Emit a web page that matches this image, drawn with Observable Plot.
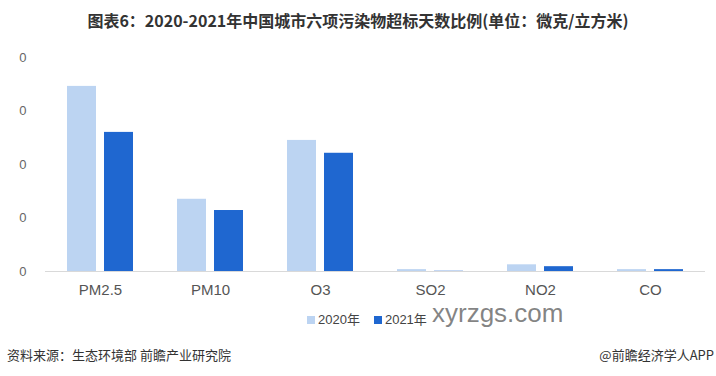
<!DOCTYPE html>
<html>
<head>
<meta charset="utf-8">
<script src="https://cdn.jsdelivr.net/npm/d3@7"></script>
<script src="https://cdn.jsdelivr.net/npm/@observablehq/plot@0.6"></script>
<style>
  html, body { margin: 0; padding: 0; background: #fff; }
  #wrap { position: relative; width: 716px; height: 376px; overflow: hidden; background: #fff;
          font-family: "Noto Sans CJK SC", "Liberation Sans", sans-serif; }
  #title { position: absolute; left: 0; top: 9px; width: 716px; text-align: center;
           font-size: 16px; line-height: 22px; font-weight: bold; color: #333; }
  #chart { position: absolute; left: 0; top: 34px; }
  #legend { position: absolute; left: 307px; top: 311px; font-size: 13px; line-height: 18px; color: #444;
            font-family: "Liberation Sans", "Noto Sans CJK SC", sans-serif; display: flex; align-items: center; }
  .sw { display: inline-block; width: 8px; height: 8px; margin-right: 3px; }
  .item { display: flex; align-items: center; margin-right: 14px; }
  #wm { position: absolute; left: 432px; top: 299px; font-size: 26px; line-height: 28px; color: rgba(110,110,110,0.85);
        font-family: "Liberation Sans", sans-serif; }
  #src { position: absolute; left: 7px; top: 346px; font-size: 13px; line-height: 18px; color: #333; }
  #app { position: absolute; right: 2px; top: 346px; font-size: 13px; line-height: 18px; color: #333; }
</style>
</head>
<body>
<div id="wrap">
  <div id="title"></div>
  <div id="chart"></div>
  <div id="wm"></div>
  <div id="legend"></div>
  <div id="src"></div>
  <div id="app"></div>
</div>
<script>
const titleText = "图表6：2020-2021年中国城市六项污染物超标天数比例(单位：微克/立方米)";
const categories = ["PM2.5", "PM10", "O3", "SO2", "NO2", "CO"];
const years = ["2020年", "2021年"];
const values2020 = [34.6, 13.5, 24.5, 0.35, 1.25, 0.35];
const values2021 = [26.0, 11.4, 22.1, 0.05, 0.9, 0.35];
const yTicks = [0, 10, 20, 30, 40];
const colors = ["#bcd4f2", "#1f67d0"];
const sourceText = "资料来源：生态环境部 前瞻产业研究院";
const appText = "@前瞻经济学人APP";
const watermark = "xyrzgs.com";

const data = categories.flatMap((c, i) => [
  {category: c, year: years[0], value: values2020[i]},
  {category: c, year: years[1], value: values2021[i]}
]);

const chart = Plot.plot({
  width: 716,
  height: 270,
  marginTop: 23,
  marginBottom: 33,
  marginLeft: 43,
  marginRight: 9,
  style: {fontFamily: "'Liberation Sans', Arial, sans-serif", background: "transparent"},
  fx: {domain: categories, padding: 0, label: null},
  x: {domain: years, paddingInner: 0.21, paddingOuter: 0.58, axis: null},
  y: {domain: [0, 40], label: null},
  color: {domain: years, range: colors},
  marks: [
    Plot.barY(data, {fx: "category", x: "year", y: "value", fill: "year"}),
    Plot.ruleY([0], {stroke: "#d9d9d9"}),
    Plot.axisY({ticks: yTicks, tickSize: 0, tickPadding: 19, tickFormat: d => String(d).slice(-1),
                fontSize: 13, fill: "#666", label: null}),
    Plot.axisFx({anchor: "bottom", tickSize: 0, tickPadding: 13, fontSize: 15, fill: "#555", label: null})
  ]
});
document.getElementById("chart").appendChild(chart);

document.getElementById("title").textContent = titleText;
document.getElementById("src").textContent = sourceText;
document.getElementById("app").textContent = appText;
document.getElementById("wm").textContent = watermark;

const legend = document.getElementById("legend");
years.forEach((y, i) => {
  const item = document.createElement("span");
  item.className = "item";
  const sw = document.createElement("span");
  sw.className = "sw";
  sw.style.background = colors[i];
  const t = document.createElement("span");
  t.textContent = y;
  item.appendChild(sw);
  item.appendChild(t);
  legend.appendChild(item);
});
</script>
</body>
</html>
